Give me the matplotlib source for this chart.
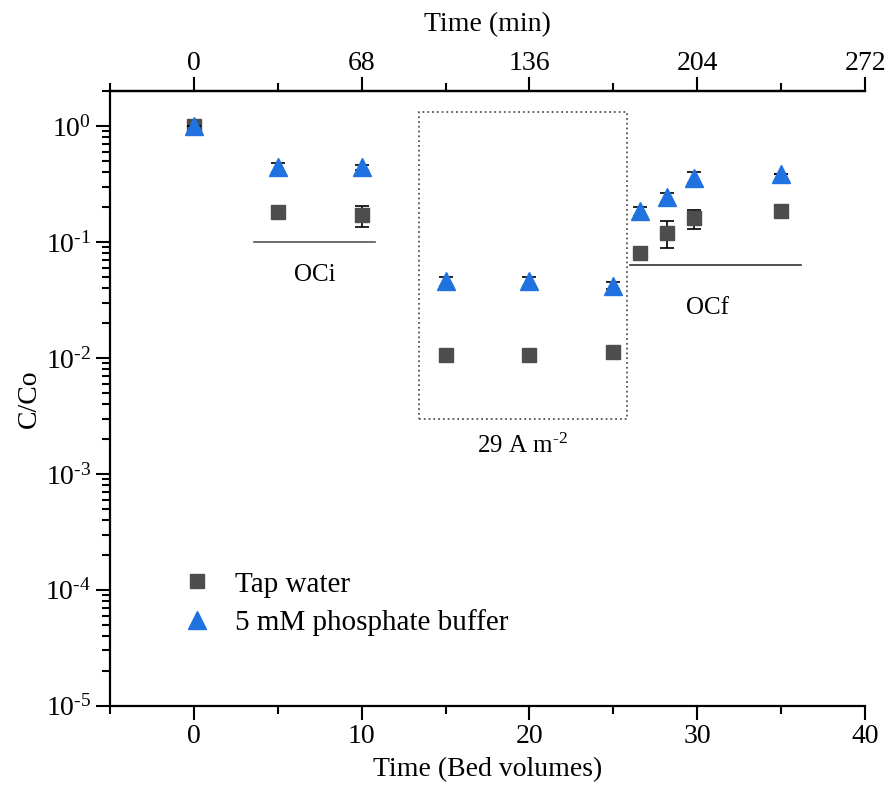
import numpy as np
import matplotlib.pyplot as plt
from matplotlib.patches import Rectangle
from matplotlib.lines import Line2D
from matplotlib.ticker import LogLocator, MultipleLocator, NullFormatter, FuncFormatter

plt.rcParams['font.family'] = ['Liberation Serif', 'DejaVu Serif']
plt.rcParams['mathtext.fontset'] = 'custom'
plt.rcParams['mathtext.rm'] = 'Liberation Serif'
plt.rcParams['mathtext.it'] = 'Liberation Serif:italic'

# --- data ---
bed_volumes = [0, 5, 10, 15, 20, 25, 26.6, 28.2, 29.8, 35]

tap = [1.0, 0.18, 0.17, 0.0107, 0.0107, 0.0113, 0.081, 0.12, 0.16, 0.187]
tap_err = [0, 0.008, 0.034, 0.0007, 0.0006, 0.0004, 0.006, 0.031, 0.03, 0.012]

phos = [1.0, 0.44, 0.44, 0.046, 0.046, 0.042, 0.184, 0.243, 0.36, 0.39]
phos_err = [0, 0.04, 0.02, 0.004, 0.004, 0.003, 0.015, 0.02, 0.04, 0]

tap_color = '#4d4d4d'
phos_color = '#1f72e0'

fig = plt.figure(figsize=(8.92, 7.93), dpi=100)
ax = fig.add_axes([0.123, 0.110, 0.847, 0.775])

ax.errorbar(bed_volumes, tap, yerr=tap_err, fmt='s', ms=10, color=tap_color,
            ecolor='black', elinewidth=1.2, capsize=5, capthick=1.2, zorder=3)
ax.errorbar(bed_volumes, phos, yerr=phos_err, fmt='^', ms=13, color=phos_color,
            ecolor='black', elinewidth=1.2, capsize=5, capthick=1.2, zorder=4)

# annotations
ax.plot([3.6, 10.8], [0.1, 0.1], color='#555555', lw=1.2)
ax.text(7.2, 0.052, 'OCi', fontsize=18, ha='center', va='center')
ax.add_patch(Rectangle((13.4, 0.003), 12.4, 1.32 - 0.003, fill=False,
                       ls=':', lw=1.3, ec='#555555'))
ax.text(19.6, 0.00175, r'29 A m$^{\text{-}2}$', fontsize=18, ha='center', va='center')
ax.plot([26.0, 36.2], [0.0635, 0.0635], color='#333333', lw=1.2)
ax.text(30.6, 0.027, 'OCf', fontsize=18, ha='center', va='center')

ax.set_yscale('log')
ax.set_xlim(-5, 40)
ax.set_ylim(1e-5, 2)
ax.xaxis.set_major_locator(MultipleLocator(10))
ax.xaxis.set_minor_locator(MultipleLocator(5))
ax.yaxis.set_major_locator(LogLocator(base=10, numticks=10))
ax.yaxis.set_minor_locator(LogLocator(base=10, subs=np.arange(2, 10), numticks=10))
ax.yaxis.set_minor_formatter(NullFormatter())


def pow_label(v, pos):
    e = int(round(np.log10(v)))
    if e < 0:
        return r'10$^{\text{-}%d}$' % (-e)
    return r'10$^{%d}$' % e


ax.yaxis.set_major_formatter(FuncFormatter(pow_label))

ax.spines['right'].set_visible(False)
for s in ['left', 'bottom', 'top']:
    ax.spines[s].set_linewidth(1.6)
ax.tick_params(which='major', direction='out', length=10, width=1.5, labelsize=20)
ax.tick_params(which='minor', direction='out', length=6, width=1.5)
ax.tick_params(axis='x', pad=3)

ax.set_xlabel('Time (Bed volumes)', fontsize=20, labelpad=6)
ax.set_ylabel('C/Co', fontsize=20, labelpad=2)

top = ax.secondary_xaxis('top', functions=(lambda x: x * 6.8, lambda m: m / 6.8))
top.xaxis.set_major_locator(MultipleLocator(68))
top.xaxis.set_minor_locator(MultipleLocator(34))
top.tick_params(which='major', direction='out', length=10, width=1.5, labelsize=20, pad=1)
top.tick_params(which='minor', direction='out', length=6, width=1.5)
top.spines['top'].set_linewidth(1.6)
top.set_xlabel('Time (min)', fontsize=20, labelpad=14)

handles = [
    Line2D([], [], ls='none', marker='s', ms=10, color=tap_color),
    Line2D([], [], ls='none', marker='^', ms=13, color=phos_color),
]
ax.legend(handles, ['Tap water', '5 mM phosphate buffer'], loc='lower left',
          bbox_to_anchor=(0.062, 0.094), frameon=False, fontsize=21,
          handletextpad=0.3, labelspacing=0.4, borderaxespad=0)

fig.savefig('out.png', dpi=100)
